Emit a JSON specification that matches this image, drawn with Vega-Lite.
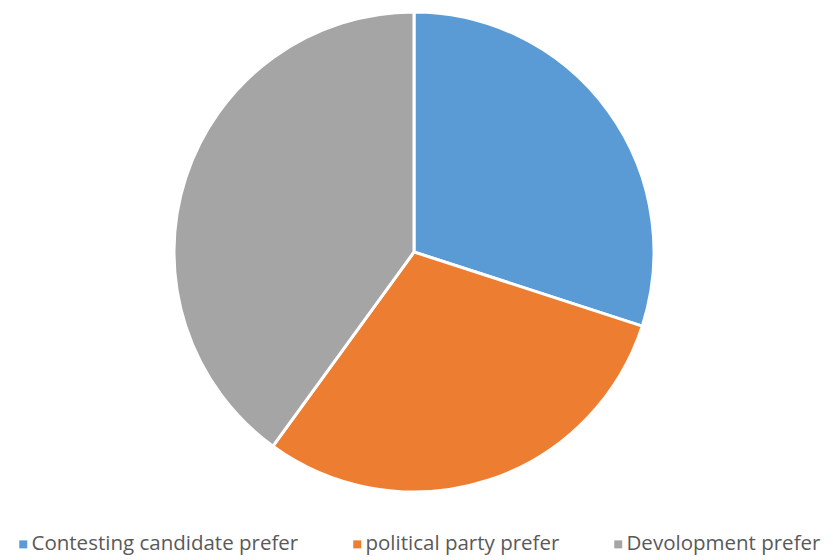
{
  "$schema": "https://vega.github.io/schema/vega-lite/v6.json",
  "width": 828,
  "height": 504,
  "padding": 0,
  "autosize": {"type": "pad"},
  "background": "white",
  "config": {"view": {"stroke": null}},
  "data": {"values": [
    {"category": "Contesting candidate prefer", "value": 30, "idx": 1},
    {"category": "political party prefer", "value": 30, "idx": 2},
    {"category": "Devolopment prefer", "value": 40, "idx": 3}
  ]},
  "mark": {"type": "arc", "outerRadius": 240, "stroke": "white", "strokeWidth": 3},
  "encoding": {
    "theta": {"field": "value", "type": "quantitative", "stack": true},
    "order": {"field": "idx", "type": "quantitative"},
    "color": {
      "field": "category",
      "type": "nominal",
      "sort": ["Contesting candidate prefer", "political party prefer", "Devolopment prefer"],
      "scale": {"domain": ["Contesting candidate prefer", "political party prefer", "Devolopment prefer"], "range": ["#5B9BD5", "#ED7D31", "#A5A5A5"]},
      "legend": {
        "title": null,
        "orient": "none",
        "padding": 0,
        "legendX": 13,
        "legendY": 534,
        "direction": "horizontal",
        "symbolType": "square",
        "symbolSize": 64,
        "symbolStrokeWidth": 0,
        "symbolOffset": 0,
        "labelFont": "Open Sans",
        "labelFontSize": 20.5,
        "labelColor": "#595959",
        "labelLimit": 400,
        "labelOffset": -2,
        "columnPadding": 48
      }
    }
  }
}
